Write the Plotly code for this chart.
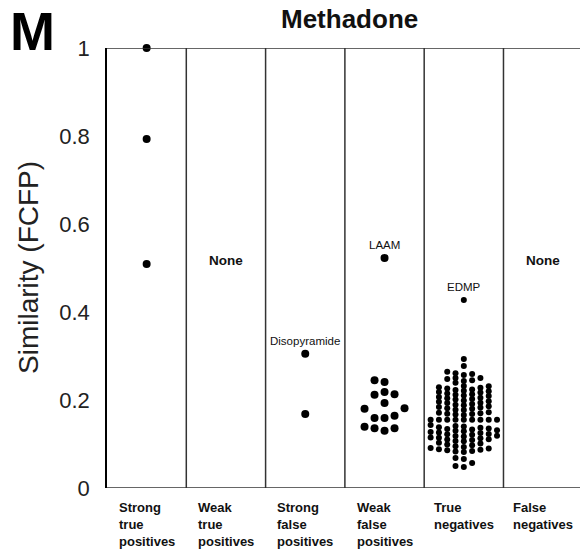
import plotly.graph_objects as go

# ---------------- data ----------------
categories = ["Strong<br>true<br>positives", "Weak<br>true<br>positives",
              "Strong<br>false<br>positives", "Weak<br>false<br>positives",
              "True<br>negatives", "False<br>negatives"]

strong_true_pos = [1.0, 0.793, 0.509]
weak_true_pos = []
strong_false_pos = [0.305, 0.168]
weak_false_pos = [0.523, 0.245, 0.241, 0.212, 0.213, 0.218, 0.193, 0.180, 0.181,
                  0.164, 0.159, 0.159, 0.139, 0.136, 0.136, 0.130]
true_neg = [0.427,
            0.293, 0.277, 0.264, 0.261, 0.259, 0.257, 0.250, 0.250, 0.248, 0.245, 0.243, 0.239,
            0.232, 0.231, 0.229, 0.228, 0.226, 0.224, 0.223, 0.221, 0.220, 0.218, 0.217, 0.215,
            0.213, 0.212, 0.210, 0.209, 0.207, 0.205, 0.204, 0.202, 0.201, 0.199, 0.197, 0.196,
            0.194, 0.193, 0.191, 0.189, 0.188, 0.186, 0.184, 0.183, 0.181, 0.180, 0.178, 0.177,
            0.172, 0.171, 0.170, 0.169, 0.168, 0.167, 0.166,
            0.155, 0.155, 0.155, 0.155, 0.155, 0.155, 0.155, 0.155, 0.155,
            0.143, 0.141, 0.140, 0.138, 0.137, 0.135, 0.134, 0.133, 0.131, 0.130,
            0.129, 0.127, 0.126, 0.125, 0.123, 0.122, 0.121, 0.119, 0.118,
            0.117, 0.115, 0.114, 0.113, 0.111, 0.110, 0.109, 0.107, 0.106,
            0.103, 0.101, 0.099, 0.097, 0.095, 0.093, 0.091, 0.090, 0.088, 0.087, 0.086, 0.084,
            0.083, 0.082,
            0.068, 0.066, 0.057, 0.050, 0.048]
false_neg = []

none_label_y = 0.518
labels = [("Disopyramide", 2, 0.305), ("LAAM", 3, 0.523), ("EDMP", 4, 0.427)]

y_ticks = [0, 0.2, 0.4, 0.6, 0.8, 1]
y_ticktext = ["0", "0.2", "0.4", "0.6", "0.8", "1"]

# ---------------- geometry ----------------
W, H = 580, 556
ML, MR, MT, MB = 107, 0, 48, 68
XMAX = 5.965
px_x = (W - ML - MR) / XMAX
px_y = (H - MT - MB) / 1.0
PW, PH = W - ML - MR, H - MT - MB


def px2paper_x(px):
    return (px - ML) / PW


def px2paper_y(py):
    return (H - MB - py) / PH


def swarm(values, spacing_px, d_px):
    order = sorted(range(len(values)), key=lambda i: values[i])
    placed, offs = [], [0.0] * len(values)
    cand = [0]
    for j in range(1, 30):
        cand += [-j, j]
    for i in order:
        y = values[i] * px_y
        for k in cand:
            x = k * spacing_px
            if all((x - a) ** 2 + (y - b) ** 2 >= d_px ** 2 for a, b in placed):
                break
        placed.append((x, y))
        offs[i] = x / px_x
    return offs


groups = [strong_true_pos, weak_true_pos, strong_false_pos, weak_false_pos, true_neg, false_neg]
sizes = [8, 8, 8, 8, 6, 8]
spacings = [10, 10, 10, 10, 8.3, 10]
dists = [10, 10, 10, 10, 4.5, 10]

fig = go.Figure()
for gi, vals in enumerate(groups):
    if not vals:
        continue
    offs = swarm(vals, spacings[gi], dists[gi])
    fig.add_trace(go.Scatter(
        x=[gi + 0.5 + o for o in offs], y=vals, mode="markers",
        marker=dict(color="black", size=sizes[gi], line=dict(width=0)),
        cliponaxis=False, showlegend=False, hoverinfo="y"))

shapes = []
for k in range(1, 6):
    shapes.append(dict(type="line", xref="x", yref="y", x0=k, x1=k, y0=0, y1=1,
                       line=dict(color="#333", width=1.5)))
for yy in (0, 1):
    shapes.append(dict(type="line", xref="paper", yref="y", x0=0, x1=1, y0=yy, y1=yy,
                       line=dict(color="#333", width=1.5)))

ann = []
FONT = "Liberation Sans, Arial, sans-serif"
for gi, cat in enumerate(categories):
    ann.append(dict(x=gi + 0.5, y=px2paper_y(498), xref="x", yref="paper", text="<b>" + cat + "</b>",
                    showarrow=False, xanchor="center", yanchor="top", align="left",
                    font=dict(family=FONT, size=13, color="#111")))
for gi, vals in enumerate(groups):
    if not vals:
        ann.append(dict(x=gi + 0.5, y=none_label_y, xref="x", yref="y", text="<b>None</b>",
                        showarrow=False, xanchor="center", yanchor="middle",
                        font=dict(family=FONT, size=13.5, color="#111")))
for txt, gi, yv in labels:
    ann.append(dict(x=gi + 0.5, y=yv, xref="x", yref="y", text=txt, showarrow=False,
                    xanchor="center", yanchor="middle", yshift=13,
                    font=dict(family=FONT, size=11.5, color="#111")))
ann.append(dict(x=px2paper_x(28), y=0.5, xref="paper", yref="paper",
                text="Similarity (FCFP)", textangle=-90, showarrow=False,
                xanchor="center", yanchor="middle",
                font=dict(family=FONT, size=28, color="#222")))
ann.append(dict(x=px2paper_x(349), y=px2paper_y(19), xref="paper", yref="paper",
                text="<b>Methadone</b>", showarrow=False, xanchor="center", yanchor="middle",
                font=dict(family=FONT, size=26, color="#111")))
ann.append(dict(x=px2paper_x(32), y=px2paper_y(31), xref="paper", yref="paper",
                text="<b>M</b>", showarrow=False, xanchor="center", yanchor="middle",
                font=dict(family=FONT, size=54, color="black")))

fig.update_layout(
    width=W, height=H, margin=dict(l=ML, r=MR, t=MT, b=MB),
    paper_bgcolor="white", plot_bgcolor="white",
    shapes=shapes, annotations=ann,
    xaxis=dict(range=[0, XMAX], showgrid=False, zeroline=False, showticklabels=False,
               showline=False, fixedrange=True),
    yaxis=dict(range=[0, 1], tickvals=y_ticks, ticktext=y_ticktext, showgrid=False,
               zeroline=False, showline=True, linecolor="black", linewidth=1.5,
               ticks="", ticklabelstandoff=11,
               tickfont=dict(family=FONT, size=22, color="#222")),
)

fig.write_html("out.html")
